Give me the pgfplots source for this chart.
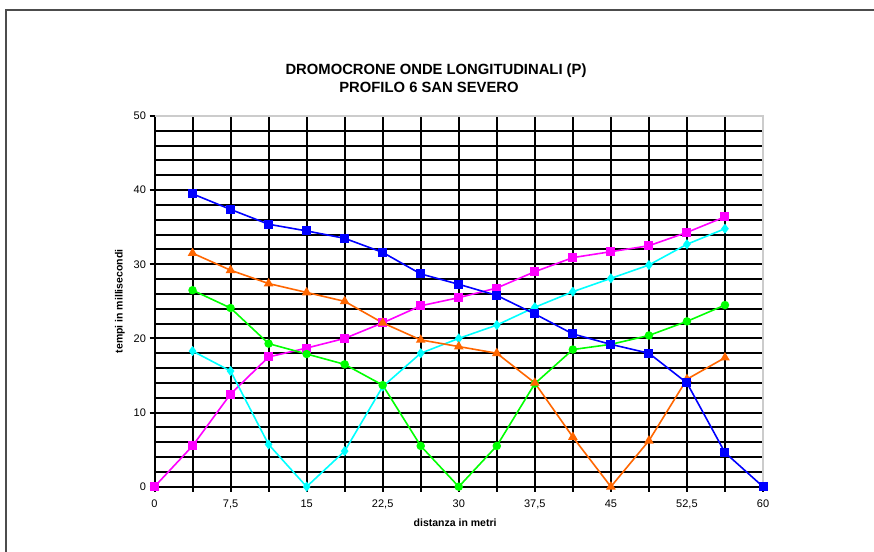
\documentclass[border=0pt]{standalone}
\usepackage{pgfplots}
\pgfplotsset{compat=1.18}
\usepackage{fontspec}
\setmainfont{Liberation Sans}
\definecolor{cBlue}{RGB}{0,0,255}
\definecolor{cOrange}{RGB}{255,102,0}
\definecolor{cGreen}{RGB}{0,255,0}
\definecolor{cMag}{RGB}{255,0,255}
\definecolor{cCyan}{RGB}{0,255,255}
\begin{document}
\begin{tikzpicture}
\useasboundingbox (0,0) rectangle (874pt,551pt);
\fill[white] (0,0) rectangle (874pt,551pt);
\draw[line width=1.6pt, black!70] (6pt,-5pt) -- (6pt,541pt) -- (880pt,541pt);
\node[font=\bfseries\fontsize{14.8}{16}\selectfont] at (436pt,480pt) {DROMOCRONE ONDE LONGITUDINALI (P)};
\node[font=\bfseries\fontsize{14.8}{16}\selectfont] at (429pt,464pt) {PROFILO 6 SAN SEVERO};
\begin{axis}[
  at={(154.5pt,64.3pt)}, anchor=south west,
  scale only axis, width=608.5pt, height=370.7pt,
  xmin=0, xmax=60, ymin=0, ymax=50,
  xtick={0,3.75,7.5,11.25,15,18.75,22.5,26.25,30,33.75,37.5,41.25,45,48.75,52.5,56.25,60},
  xticklabels={0,,{7,5},,15,,{22,5},,30,,{37,5},,45,,{52,5},,60},
  ytick={0,10,20,30,40,50},
  yticklabels={0,10,20,30,40,50},
  minor ytick={2,4,6,8,12,14,16,18,22,24,26,28,32,34,36,38,42,44,46,48},
  grid=both,
  major grid style={black, line width=2pt},
  minor grid style={black, line width=2pt},
  tick align=outside, tick pos=left,
  major tick length=5pt, minor tick length=0pt,
  tick style={black, line width=2pt},
  axis line style={black, line width=2pt},
  ticklabel style={font=\fontsize{11}{12}\selectfont},
  xticklabel style={yshift=-5pt},
  xlabel={distanza in metri},
  ylabel={tempi in millisecondi},
  every axis x label/.style={at={(axis description cs:0.494,-0.098)}, anchor=center, font=\bfseries\fontsize{10.5}{12}\selectfont},
  every axis y label/.style={at={(axis description cs:-0.057,0.5)}, rotate=90, anchor=center, font=\bfseries\fontsize{10.5}{12}\selectfont},
  clip=false,
]
\draw[black!20, line width=2.2pt] (axis cs:60,0) -- (axis cs:60,50) -- (axis cs:0,50);
\addplot[cMag, line width=1.6pt, mark=square*, mark size=3.7pt] coordinates {
(0,0) (3.75,5.5) (7.5,12.5) (11.25,17.5) (15,18.7) (18.75,20.0) (22.5,22.1) (26.25,24.4) (30,25.5) (33.75,26.8) (37.5,29.0) (41.25,30.9) (45,31.7) (48.75,32.5) (52.5,34.3) (56.25,36.4)};
\addplot[cCyan, line width=1.6pt, mark=diamond*, mark size=3.8pt] coordinates {
(3.75,18.3) (7.5,15.6) (11.25,5.7) (15,0) (18.75,4.8) (22.5,13.5) (26.25,18.0) (30,20.0) (33.75,21.8) (37.5,24.2) (41.25,26.3) (45,28.1) (48.75,29.9) (52.5,32.7) (56.25,34.8)};
\addplot[cGreen, line width=1.6pt, mark=*, mark size=3.4pt] coordinates {
(3.75,26.5) (7.5,24.1) (11.25,19.3) (15,17.9) (18.75,16.5) (22.5,13.7) (26.25,5.5) (30,0) (33.75,5.5) (37.5,13.9) (41.25,18.5) (45,19.2) (48.75,20.4) (52.5,22.3) (56.25,24.5)};
\addplot[cOrange, line width=1.6pt, mark=triangle*, mark size=4pt] coordinates {
(3.75,31.5) (7.5,29.2) (11.25,27.4) (15,26.2) (18.75,25.0) (22.5,22.1) (26.25,19.8) (30,18.9) (33.75,18.0) (37.5,14.0) (41.25,6.7) (45,0) (48.75,6.2) (52.5,14.5) (56.25,17.4)};
\addplot[cBlue, line width=1.6pt, mark=square*, mark size=3.7pt] coordinates {
(3.75,39.5) (7.5,37.4) (11.25,35.4) (15,34.5) (18.75,33.5) (22.5,31.6) (26.25,28.7) (30,27.3) (33.75,25.8) (37.5,23.3) (41.25,20.6) (45,19.2) (48.75,18.0) (52.5,14.0) (56.25,4.6) (60,0)};
\end{axis}
\end{tikzpicture}
\end{document}
